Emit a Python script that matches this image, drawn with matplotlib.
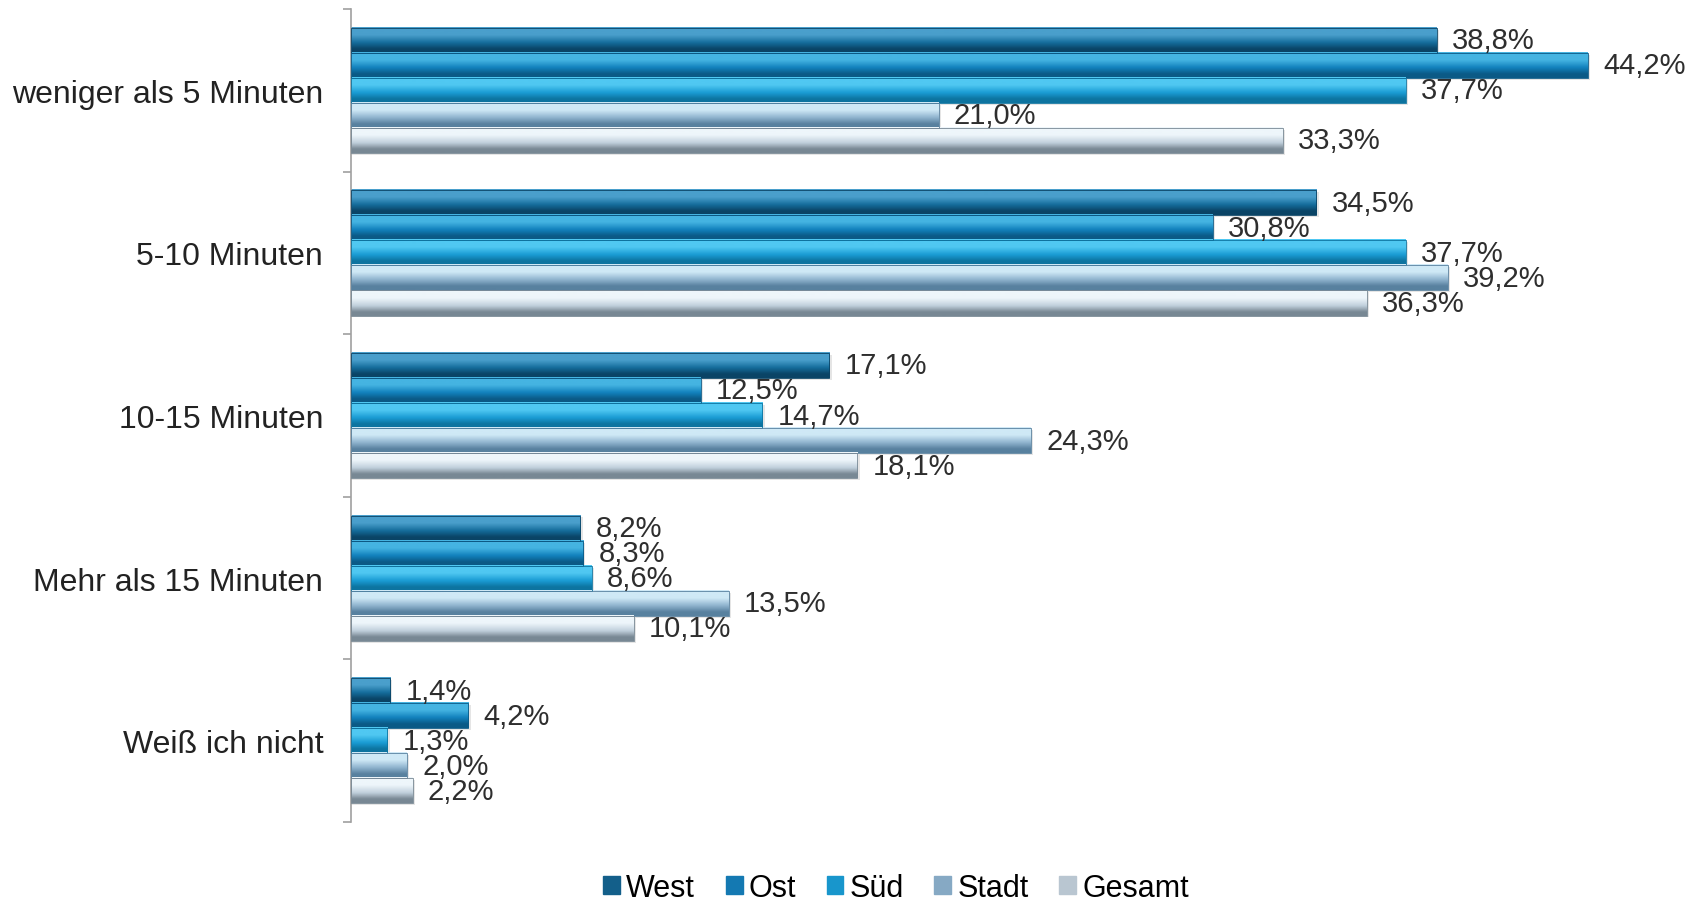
import numpy as np
import matplotlib.pyplot as plt
from matplotlib.colors import LinearSegmentedColormap
from matplotlib.patches import Patch

plt.rcParams['font.family'] = ['Liberation Sans', 'DejaVu Sans']

categories = ['weniger als 5 Minuten', '5-10 Minuten', '10-15 Minuten',
              'Mehr als 15 Minuten', 'Weiß ich nicht']
series_names = ['West', 'Ost', 'Süd', 'Stadt', 'Gesamt']
west = [38.8, 34.5, 17.1, 8.2, 1.4]
ost = [44.2, 30.8, 12.5, 8.3, 4.2]
sued = [37.7, 37.7, 14.7, 8.6, 1.3]
stadt = [21.0, 39.2, 24.3, 13.5, 2.0]
gesamt = [33.3, 36.3, 18.1, 10.1, 2.2]
series = [west, ost, sued, stadt, gesamt]

# top highlight, body, bottom shade for each series
shades = [
    ('#4a9fcc', '#156d9c', '#0a4466'),
    ('#45b4e2', '#1281bd', '#0b5a86'),
    ('#50c8f2', '#1a9cd4', '#0d74a0'),
    ('#cfe9f6', '#8fb3ce', '#58819f'),
    ('#eef6fb', '#c2d1dd', '#788894'),
]
legend_colors = ['#135f8a', '#1479b2', '#1896cc', '#86a9c4', '#b9c6d1']

fig = plt.figure(figsize=(16.97, 9.04), dpi=100)
ax = fig.add_axes([0.2068, 0.0896, 0.775, 0.8993])

n = len(series)
group = 0.77
h = group / n
y = np.arange(len(categories))

for i, (vals, sh) in enumerate(zip(series, shades)):
    cmap = LinearSegmentedColormap.from_list(
        series_names[i], [(0, sh[0]), (0.3, sh[0]), (0.6, sh[1]), (0.85, sh[2]), (1, sh[2])])
    grad = np.linspace(0, 1, 64).reshape(-1, 1)
    offs = y - group / 2 + i * h
    for yc, v in zip(offs, vals):
        # soft shadow below the bar
        ax.barh(yc + h / 2 + 0.012, v + 0.08, height=h, left=0, align='center',
                color='#000000', alpha=0.10, lw=0, zorder=1)
        ax.imshow(grad, cmap=cmap, aspect='auto', interpolation='bicubic',
                  extent=(0, v, yc + h, yc), zorder=2)
        ax.barh(yc + h / 2, v, height=h, left=0, align='center', fill=False,
                edgecolor=sh[2], lw=0.6, zorder=3)
        ax.annotate(f'{v:.1f}%'.replace('.', ','), xy=(v, yc + h / 2),
                    xytext=(11, 0), textcoords='offset points', va='center',
                    ha='left', fontsize=21, color='#2e2e2e', zorder=5)

ax.set_xlim(0, 47)
ax.set_ylim(len(categories) - 0.5, -0.5)
ax.set_xticks([])
ax.set_yticks(y)
ax.set_yticklabels(categories, fontsize=23, color='#222222')
ax.set_yticks(np.arange(-0.5, len(categories)), minor=True)
ax.tick_params(axis='y', which='major', length=0, pad=20)
ax.tick_params(axis='y', which='minor', length=6, color='#a0a0a0', width=1.2)
for s in ['top', 'right', 'bottom']:
    ax.spines[s].set_visible(False)
ax.spines['left'].set_color('#a0a0a0')
ax.spines['left'].set_linewidth(1.2)

handles = [Patch(facecolor=c, edgecolor=c) for c in legend_colors]
fig.legend(handles, series_names, loc='center', bbox_to_anchor=(0.528, 0.017),
           ncol=5, frameon=False, fontsize=22, handlelength=0.55,
           handleheight=0.55, handletextpad=0.2, columnspacing=1.0)

fig.savefig('out.png', dpi=100, facecolor='white')
